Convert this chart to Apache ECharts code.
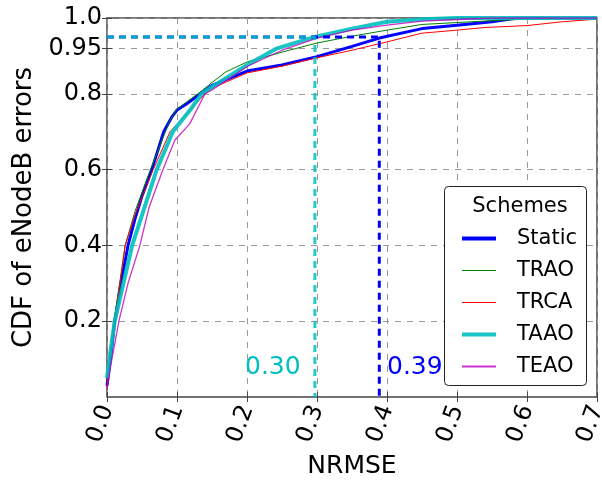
<!DOCTYPE html>
<html>
<head>
<meta charset="utf-8">
<script src="https://cdn.jsdelivr.net/npm/echarts@6/dist/echarts.min.js"></script>
<style>
  body { margin: 0; background: #fff; }
  #chart { width: 602px; height: 482px; }
</style>
</head>
<body>
<div id="chart"></div>
<script>
  // CDF curves, [NRMSE, CDF]
  const staticPts = [[0, 0.03], [0.005, 0.1], [0.011, 0.2], [0.02, 0.3], [0.03, 0.4], [0.04, 0.47], [0.05, 0.53],
    [0.064, 0.6], [0.081, 0.7], [0.093, 0.74], [0.1, 0.757], [0.115, 0.775], [0.133, 0.8], [0.15, 0.822],
    [0.2, 0.86], [0.25, 0.876], [0.3, 0.898], [0.35, 0.925], [0.389, 0.947], [0.45, 0.972], [0.5, 0.981],
    [0.55, 0.99], [0.586, 1.0], [0.7, 1.0]]
  const traoPts = [[0, 0.04], [0.005, 0.12], [0.01, 0.2], [0.026, 0.4], [0.04, 0.49], [0.062, 0.6], [0.09, 0.73],
    [0.1, 0.76], [0.13, 0.8], [0.15, 0.83], [0.17, 0.858], [0.2, 0.884], [0.25, 0.91], [0.3, 0.934],
    [0.35, 0.952], [0.4, 0.968], [0.45, 0.983], [0.5, 0.988], [0.55, 0.993], [0.6, 0.997], [0.65, 1.0], [0.7, 1.0]]
  const trcaPts = [[0, 0.03], [0.005, 0.12], [0.011, 0.2], [0.026, 0.4], [0.04, 0.48], [0.066, 0.6], [0.09, 0.7],
    [0.1, 0.72], [0.14, 0.8], [0.15, 0.815], [0.2, 0.855], [0.25, 0.873], [0.3, 0.895], [0.35, 0.915],
    [0.4, 0.937], [0.45, 0.96], [0.5, 0.968], [0.54, 0.975], [0.6, 0.98], [0.65, 0.99], [0.7, 0.997]]
  const taaoPts = [[0, 0.05], [0.005, 0.12], [0.011, 0.2], [0.036, 0.4], [0.05, 0.48], [0.071, 0.6], [0.094, 0.7],
    [0.107, 0.73], [0.12, 0.76], [0.135, 0.8], [0.15, 0.818], [0.2, 0.876], [0.243, 0.92], [0.297, 0.95],
    [0.35, 0.972], [0.4, 0.99], [0.45, 0.997], [0.5, 1.0], [0.7, 1.0]]
  const teaoPts = [[0, 0.02], [0.005, 0.08], [0.017, 0.2], [0.03, 0.3], [0.047, 0.4], [0.06, 0.5], [0.08, 0.6],
    [0.097, 0.678], [0.118, 0.72], [0.14, 0.8], [0.15, 0.81], [0.2, 0.872], [0.25, 0.915], [0.3, 0.947],
    [0.35, 0.968], [0.4, 0.981], [0.45, 0.992], [0.5, 0.996], [0.55, 1.0], [0.7, 1.0]]

  // 95th percentile markers
  const blueMark = [[0, 0.95], [0.389, 0.95], [0.389, 0]]
  const cyanMark = [[0, 0.95], [0.297, 0.95], [0.297, 0]]

  const yTicks = [0.2, 0.4, 0.6, 0.8, 0.92, 1.0]
  const yTickLabels = ['0.2', '0.4', '0.6', '0.8', '0.95', '1.0']
  const schemes = ['Static', 'TRAO', 'TRCA', 'TAAO', 'TEAO']
  const legendWidths = [4, 1, 1, 4, 2]

  const font = 'DejaVu Sans'

  function curve(name, data, color, width, opacity) {
    return {
      name: name, type: 'line', data: data, symbol: 'none', silent: true,
      lineStyle: { color: color, width: width, opacity: opacity || 1 },
      itemStyle: { color: color, opacity: opacity || 1 },
      z: 3
    }
  }

  const chart = echarts.init(document.getElementById('chart'))
  chart.setOption({
    animation: false,
    grid: { left: 107, right: 5, top: 18, bottom: 85, outerBoundsMode: 'none',
      show: true, borderColor: '#444', borderWidth: 1.5 },
    title: {
      text: 'Schemes', left: 515, top: 191, textAlign: 'center', z: 60,
      textStyle: { fontFamily: font, fontSize: 21, fontWeight: 'normal', color: '#000' }
    },
    graphic: [{
      type: 'rect', left: 444, top: 186, z: 50,
      shape: { width: 142, height: 199, r: 4 },
      style: { fill: '#fff', stroke: '#222', lineWidth: 1 }
    }, {
      type: 'text', left: 245, top: 355, z: 50,
      style: { text: '0.30', fill: '#00bfbf', font: '25px "DejaVu Sans"' }
    }, {
      type: 'text', left: 387, top: 355, z: 50,
      style: { text: '0.39', fill: '#0000ff', font: '25px "DejaVu Sans"' }
    }],
    legend: {
      data: schemes.map((s, i) => ({ name: s, lineStyle: { width: legendWidths[i] } })),
      orient: 'vertical', left: 455, top: 223, z: 60,
      itemWidth: 34, itemHeight: 10, itemGap: 11,
      itemStyle: { opacity: 0 },
      textStyle: { fontFamily: font, fontSize: 21, color: '#000', padding: [0, 0, 0, 16] }
    },
    xAxis: [{
      type: 'value', min: 0, max: 0.7, interval: 0.1,
      name: 'NRMSE', nameLocation: 'middle', nameGap: 55,
      nameTextStyle: { fontFamily: font, fontSize: 25, color: '#000' },
      axisLine: { show: false },
      axisTick: { inside: true, length: 5, lineStyle: { color: '#444' } },
      axisLabel: { rotate: 70, margin: 9, fontFamily: font, fontSize: 24, color: '#000',
        formatter: v => v.toFixed(1) },
      splitLine: { show: true, lineStyle: { color: '#999', type: [6, 6], width: 1 } }
    }, {
      type: 'value', min: 0, max: 0.7, interval: 0.1, position: 'top',
      axisLine: { show: false }, axisLabel: { show: false }, splitLine: { show: false },
      axisTick: { inside: true, length: 5, lineStyle: { color: '#444' } }
    }],
    yAxis: [{
      type: 'value', min: 0, max: 1,
      name: 'CDF of eNodeB errors', nameLocation: 'middle', nameGap: 64,
      nameTextStyle: { fontFamily: font, fontSize: 26, color: '#000' },
      axisLine: { show: false },
      axisTick: { inside: true, length: 5, customValues: yTicks, lineStyle: { color: '#444' } },
      axisLabel: { margin: 5, fontFamily: font, fontSize: 24, color: '#000', customValues: yTicks,
        formatter: v => yTickLabels[yTicks.indexOf(v)] },
      splitLine: { show: true, lineStyle: { color: '#999', type: [6, 6], width: 1 } }
    }, {
      type: 'value', min: 0, max: 1, position: 'right',
      axisLine: { show: false }, axisLabel: { show: false }, splitLine: { show: false },
      axisTick: { inside: true, length: 5, customValues: yTicks, lineStyle: { color: '#444' } }
    }],
    series: [
      curve('Static', staticPts, '#0000ff', 3),
      curve('TRAO', traoPts, '#008000', 1),
      curve('TRCA', trcaPts, '#ff0000', 1),
      curve('TAAO', taaoPts, '#00bfbf', 4, 0.9),
      curve('TEAO', teaoPts, '#bf00bf', 1.3, 0.8),
      {
        type: 'line', data: blueMark, symbol: 'none', silent: true, z: 4,
        lineStyle: { color: '#0000ff', width: 3, type: [7, 5] }
      },
      {
        type: 'line', data: cyanMark, symbol: 'none', silent: true, z: 5,
        lineStyle: { color: '#00bfbf', width: 3, type: [7, 5], opacity: 0.85 }
      }
    ]
  })
</script>
</body>
</html>
